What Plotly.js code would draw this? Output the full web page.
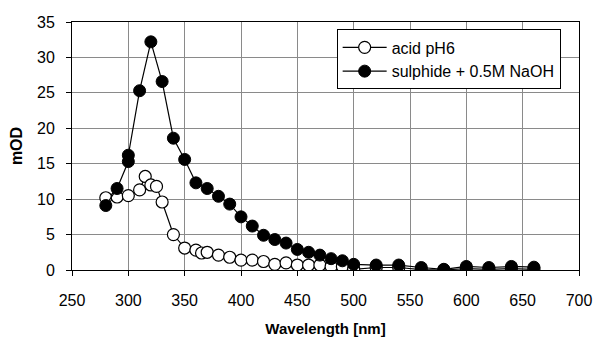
<!DOCTYPE html>
<html>
<head>
<meta charset="utf-8">
<script src="https://cdn.plot.ly/plotly-3.0.1.min.js"></script>
<style>html,body{margin:0;padding:0;background:#fff;}#chart{width:598px;height:338px;}</style>
</head>
<body>
<div id="chart"></div>
<script>
// Data
const wlAcid = [280,290,300,310,315,320,325,330,340,350,360,365,370,380,390,400,410,420,430,440,450,460,470,480,490,500,520,540,560,580,600,620,640,660];
const acid   = [10.2,10.3,10.5,11.3,13.2,12.0,11.8,9.6,5.0,3.1,2.8,2.4,2.5,2.1,1.8,1.4,1.4,1.2,0.8,1.0,0.7,0.7,0.7,0.5,0.5,0.1,0.35,0.35,0.05,0.0,0.2,0.1,0.2,0.1];
const wlSulph = [280,290,300,300,310,320,330,340,350,360,370,380,390,400,410,420,430,440,450,460,470,480,490,500,520,540,560,580,600,620,640,660];
const sulph   = [9.1,11.5,15.3,16.2,25.3,32.2,26.6,18.6,15.6,12.3,11.5,10.4,9.3,7.5,6.2,4.9,4.3,3.8,2.9,2.5,2.1,1.6,1.3,0.8,0.7,0.7,0.35,0.1,0.5,0.35,0.5,0.4];
const names = ['acid pH6', 'sulphide + 0.5M NaOH'];
const xTicks = [250,300,350,400,450,500,550,600,650,700];
const yTicks = [0,5,10,15,20,25,30,35];

const traces = [
  {x: wlAcid, y: acid, name: names[0], type: 'scatter', mode: 'lines+markers',
   line: {color: '#000', width: 1.2},
   marker: {symbol: 'circle', size: 12, color: '#fff', line: {color: '#000', width: 1.2}}},
  {x: wlSulph, y: sulph, name: names[1], type: 'scatter', mode: 'lines+markers',
   line: {color: '#000', width: 1.2},
   marker: {symbol: 'circle', size: 12, color: '#000', line: {color: '#000', width: 1}}}
];

const layout = {
  width: 598, height: 338,
  margin: {l: 72, r: 19, t: 22, b: 68},
  paper_bgcolor: '#fff', plot_bgcolor: '#fff',
  font: {family: '"Liberation Sans", Arial, sans-serif', color: '#000', size: 16},
  showlegend: true,
  legend: {x: 0.522, y: 0.97, xanchor: 'left', yanchor: 'top',
           bgcolor: '#fff', bordercolor: '#000', borderwidth: 1, itemwidth: 44,
           font: {size: 16, color: '#000'}, tracegroupgap: 0},
  xaxis: {range: [250, 700], tickvals: xTicks, ticktext: xTicks.map(String),
          showline: true, linecolor: '#000', linewidth: 1, mirror: true,
          showgrid: true, gridcolor: '#8a8a8a', gridwidth: 1, zeroline: false,
          ticks: 'outside', ticklen: 5, tickcolor: '#000', ticklabelstandoff: 11,
          tickfont: {size: 16},
          title: {text: 'Wavelength [nm]', font: {size: 15, weight: 'bold'}, standoff: 15}},
  yaxis: {range: [0, 35], tickvals: yTicks, ticktext: yTicks.map(String),
          showline: true, linecolor: '#000', linewidth: 1, mirror: true,
          showgrid: true, gridcolor: '#8a8a8a', gridwidth: 1, zeroline: false,
          ticks: 'outside', ticklen: 5, tickcolor: '#000', ticklabelstandoff: 8,
          tickfont: {size: 16},
          title: {text: 'mOD', font: {size: 16, weight: 'bold'}, standoff: 10}}
};

Plotly.newPlot('chart', traces, layout, {displayModeBar: false, staticPlot: true});
</script>
</body>
</html>
